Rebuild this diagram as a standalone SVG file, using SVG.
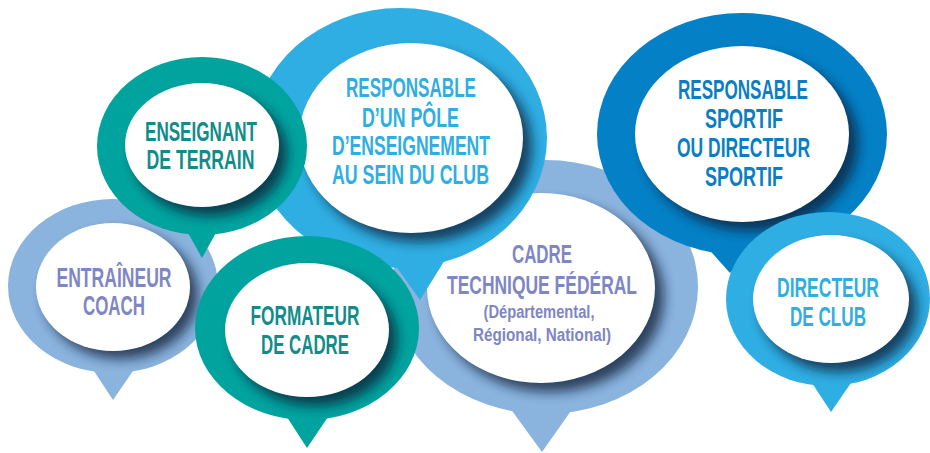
<svg xmlns="http://www.w3.org/2000/svg" width="930" height="453" viewBox="0 0 930 453">
  <style>
    .pale { fill: #8AB3DE; }
    .teal { fill: #01A39F; }
    .sky { fill: #2FAEE3; }
    .deep { fill: #0480C6; }
    .inner { fill: #FFFFFF; }
    .shadow { fill: #0E1F35; opacity: 0.75; }
    text { font-family: "Liberation Sans", Arial, sans-serif; font-weight: bold; text-anchor: middle; }
    .big { font-size: 28px; }
    .mid { font-size: 25px; }
    .small { font-size: 18px; }
    .t-pale { fill: #7E86C3; }
    .t-teal { fill: #128C8A; }
    .t-sky { fill: #2FAEE3; }
    .t-deep { fill: #0A7EC5; }
  </style>
  <defs>
    <filter id="blur" x="-30%" y="-30%" width="160%" height="160%">
      <feGaussianBlur stdDeviation="6"/>
    </filter>
    <clipPath id="c-entraineur"><ellipse cx="113" cy="286" rx="105" ry="87"/><polygon points="92,368 135,368 113,400"/></clipPath>
    <clipPath id="c-cadre"><ellipse cx="545" cy="287" rx="153" ry="127"/><polygon points="510,408 573,408 542,452"/></clipPath>
    <clipPath id="c-pole"><ellipse cx="400" cy="138" rx="147" ry="130"/><polygon points="388,255 448,255 420,300"/></clipPath>
    <clipPath id="c-enseignant"><ellipse cx="202" cy="146" rx="105" ry="89"/><polygon points="182,222 222,222 202,258"/></clipPath>
    <clipPath id="c-formateur"><ellipse cx="307" cy="328" rx="112" ry="92"/><polygon points="285,414 330,414 307,448"/></clipPath>
    <clipPath id="c-sportif"><ellipse cx="742" cy="134" rx="145" ry="121"/><polygon points="705,245 758,245 730,273"/></clipPath>
    <clipPath id="c-directeur"><ellipse cx="828" cy="299" rx="102" ry="87"/><polygon points="810,380 853,380 831,412"/></clipPath>
  </defs>

  <g id="entraineur">
    <ellipse class="pale" cx="113" cy="286" rx="105" ry="87"/>
    <polygon class="pale" points="92,368 135,368 113,400"/>
    <g clip-path="url(#c-entraineur)"><ellipse class="shadow" cx="121" cy="295" rx="77" ry="64" filter="url(#blur)"/></g>
    <ellipse class="inner" cx="113" cy="287" rx="77" ry="64"/>
    <text class="big t-pale" x="114" y="287" textLength="115" lengthAdjust="spacingAndGlyphs">ENTRAÎNEUR</text>
    <text class="big t-pale" x="114" y="315" textLength="62" lengthAdjust="spacingAndGlyphs">COACH</text>
  </g>

  <g id="cadre">
    <ellipse class="pale" cx="545" cy="287" rx="153" ry="127"/>
    <polygon class="pale" points="510,408 573,408 542,452"/>
    <g clip-path="url(#c-cadre)"><ellipse class="shadow" cx="550" cy="297" rx="114" ry="95" filter="url(#blur)"/></g>
    <ellipse class="inner" cx="541" cy="288" rx="114" ry="95"/>
    <text class="mid t-pale" x="542" y="263" textLength="60" lengthAdjust="spacingAndGlyphs">CADRE</text>
    <text class="mid t-pale" x="542" y="294" textLength="190" lengthAdjust="spacingAndGlyphs">TECHNIQUE FÉDÉRAL</text>
    <text class="small t-pale" x="539" y="318" textLength="111" lengthAdjust="spacingAndGlyphs">(Départemental,</text>
    <text class="small t-pale" x="542" y="341" textLength="138" lengthAdjust="spacingAndGlyphs">Régional, National)</text>
  </g>

  <g id="pole">
    <ellipse class="sky" cx="400" cy="138" rx="147" ry="130"/>
    <polygon class="sky" points="388,255 448,255 420,300"/>
    <g clip-path="url(#c-pole)"><ellipse class="shadow" cx="420" cy="147" rx="112" ry="95" filter="url(#blur)"/></g>
    <ellipse class="inner" cx="411" cy="138" rx="112" ry="95"/>
    <text class="big t-sky" x="411" y="97" textLength="130" lengthAdjust="spacingAndGlyphs">RESPONSABLE</text>
    <text class="big t-sky" x="410.5" y="127" textLength="97" lengthAdjust="spacingAndGlyphs">D’UN PÔLE</text>
    <text class="big t-sky" x="411" y="155" textLength="158" lengthAdjust="spacingAndGlyphs">D’ENSEIGNEMENT</text>
    <text class="big t-sky" x="410.5" y="184" textLength="157" lengthAdjust="spacingAndGlyphs">AU SEIN DU CLUB</text>
  </g>

  <g id="enseignant">
    <ellipse class="teal" cx="202" cy="146" rx="105" ry="89"/>
    <polygon class="teal" points="182,222 222,222 202,258"/>
    <g clip-path="url(#c-enseignant)"><ellipse class="shadow" cx="210" cy="154" rx="77" ry="62" filter="url(#blur)"/></g>
    <ellipse class="inner" cx="202" cy="145" rx="77" ry="62"/>
    <text class="big t-teal" x="201" y="141" textLength="112" lengthAdjust="spacingAndGlyphs">ENSEIGNANT</text>
    <text class="big t-teal" x="200.5" y="169" textLength="108" lengthAdjust="spacingAndGlyphs">DE TERRAIN</text>
  </g>

  <g id="formateur">
    <ellipse class="teal" cx="307" cy="328" rx="112" ry="92"/>
    <polygon class="teal" points="285,414 330,414 307,448"/>
    <g clip-path="url(#c-formateur)"><ellipse class="shadow" cx="315" cy="339" rx="82" ry="67" filter="url(#blur)"/></g>
    <ellipse class="inner" cx="307" cy="330" rx="82" ry="67"/>
    <text class="big t-teal" x="305" y="325" textLength="109" lengthAdjust="spacingAndGlyphs">FORMATEUR</text>
    <text class="big t-teal" x="305" y="354" textLength="88" lengthAdjust="spacingAndGlyphs">DE CADRE</text>
  </g>

  <g id="sportif">
    <ellipse class="deep" cx="742" cy="134" rx="145" ry="121"/>
    <polygon class="deep" points="705,245 758,245 730,273"/>
    <g clip-path="url(#c-sportif)"><ellipse class="shadow" cx="751" cy="143" rx="107" ry="88" filter="url(#blur)"/></g>
    <ellipse class="inner" cx="742" cy="134" rx="107" ry="88"/>
    <text class="big t-deep" x="743" y="99" textLength="130" lengthAdjust="spacingAndGlyphs">RESPONSABLE</text>
    <text class="big t-deep" x="744" y="128" textLength="78" lengthAdjust="spacingAndGlyphs">SPORTIF</text>
    <text class="big t-deep" x="743.5" y="157" textLength="133" lengthAdjust="spacingAndGlyphs">OU DIRECTEUR</text>
    <text class="big t-deep" x="744" y="186" textLength="78" lengthAdjust="spacingAndGlyphs">SPORTIF</text>
  </g>

  <g id="directeur">
    <ellipse class="sky" cx="828" cy="299" rx="102" ry="87"/>
    <polygon class="sky" points="810,380 853,380 831,412"/>
    <g clip-path="url(#c-directeur)"><ellipse class="shadow" cx="839" cy="308" rx="78" ry="64" filter="url(#blur)"/></g>
    <ellipse class="inner" cx="831" cy="299" rx="78" ry="64"/>
    <text class="big t-sky" x="828" y="297" textLength="102" lengthAdjust="spacingAndGlyphs">DIRECTEUR</text>
    <text class="big t-sky" x="828" y="326" textLength="76" lengthAdjust="spacingAndGlyphs">DE CLUB</text>
  </g>

  <g id="connectors"/>
</svg>
